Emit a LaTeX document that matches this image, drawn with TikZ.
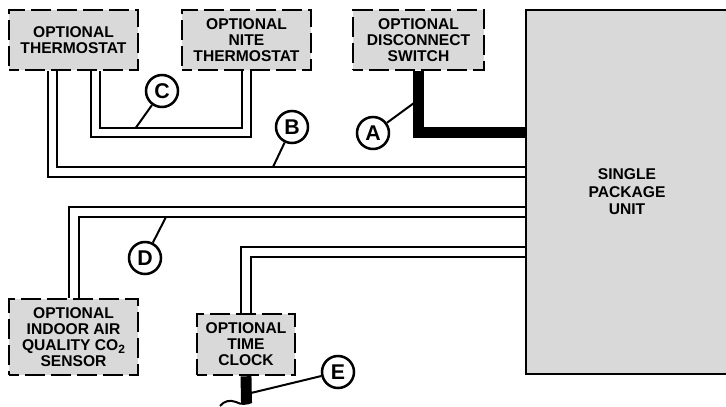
\documentclass[tikz,border=0pt]{standalone}
\usepackage{fontspec}
\setmainfont{Liberation Sans}
\definecolor{boxgray}{gray}{0.85}
\tikzset{
  optbox/.style={draw, fill=boxgray, line width=1.9pt, dash pattern=on 15pt off 4.5pt, dash phase=7.5pt, inner sep=0pt, align=center, font=\fontsize{11.7}{12}\selectfont\bfseries},
  wire/.style={line width=1.5pt},
  heavywire/.style={line width=8.2pt},
  callout/.style={draw, circle, fill=white, line width=1.9pt, minimum size=24pt, inner sep=0pt, font=\fontsize{16}{16}\selectfont\bfseries},
  leader/.style={line width=1.5pt}
}
\begin{document}
\begin{tikzpicture}[x=0.75pt, y=-0.75pt]
  \useasboundingbox (0,0) rectangle (726,407);

  % Main unit
  \draw[line width=1.9pt, fill=boxgray] (728,10) -- (526,10) -- (526,374) -- (728,374);
  \node[align=center, font=\fontsize{11.7}{13.2}\selectfont\bfseries] (unit) at (627,192) {SINGLE\\PACKAGE\\UNIT};
  \coordinate (unitedge) at (526,188);

  % Optional boxes
  \node[optbox, minimum width=96.75pt, minimum height=45pt] (thermo) at (73.5,40) {OPTIONAL\\THERMOSTAT};
  \node[optbox, minimum width=96.75pt, minimum height=45pt] (nite) at (246.5,40) {OPTIONAL\\NITE\\THERMOSTAT};
  \node[optbox, minimum width=98pt, minimum height=45pt] (switch) at (418.5,40) {OPTIONAL\\DISCONNECT\\SWITCH};
  \node[optbox, minimum width=96.75pt, minimum height=57pt] (sensor) at (73.5,337) {OPTIONAL\\INDOOR AIR\\QUALITY CO\raisebox{-2.5pt}{\fontsize{9}{9}\selectfont 2}\\SENSOR};
  \node[optbox, minimum width=73.5pt, minimum height=45.75pt] (clock) at (246,344.5) {OPTIONAL\\TIME\\CLOCK};

  % Wire runs
  \draw[wire] (thermo.south -| 47.5,0) |- (unitedge |- 0,177);
  \draw[wire] (thermo.south -| 57,0) |- (unitedge |- 0,167);
  \draw[wire] (thermo.south -| 90.5,0) |- (250.5,137) -- (nite.south -| 250.5,0);
  \draw[wire] (thermo.south -| 100,0) |- (241.5,127.5) -- (nite.south -| 241.5,0);
  \draw[wire] (sensor.north -| 69,0) |- (unitedge |- 0,207);
  \draw[wire] (sensor.north -| 78.5,0) |- (unitedge |- 0,217);
  \draw[wire] (clock.north -| 241,0) |- (unitedge |- 0,247);
  \draw[wire] (clock.north -| 250.5,0) |- (unitedge |- 0,257);
  \draw[heavywire] (switch.south) |- (unitedge |- 0,132.5);
  \draw[heavywire] (clock.south) -- (246.5,403);

  % Power lead stub
  \draw[wire] (220,406) .. controls (224,401) and (230,399.5) .. (236,402) .. controls (241,405) and (247,404) .. (252,402);

  % Callouts
  \node[callout] (calla) at (373,133) {A};
  \node[callout] (callb) at (292,127) {B};
  \node[callout] (callc) at (162,91) {C};
  \node[callout] (calld) at (145,258) {D};
  \node[callout] (calle) at (338,372) {E};
  \coordinate (tipa) at (414,103);
  \coordinate (tipb) at (273,167);
  \coordinate (tipc) at (136,127.5);
  \coordinate (tipd) at (166,217);
  \coordinate (tipe) at (251,393);
  \draw[leader] (calla) -- (tipa);
  \draw[leader] (callb) -- (tipb);
  \draw[leader] (callc) -- (tipc);
  \draw[leader] (calld) -- (tipd);
  \draw[leader] (calle) -- (tipe);
\end{tikzpicture}
\end{document}
